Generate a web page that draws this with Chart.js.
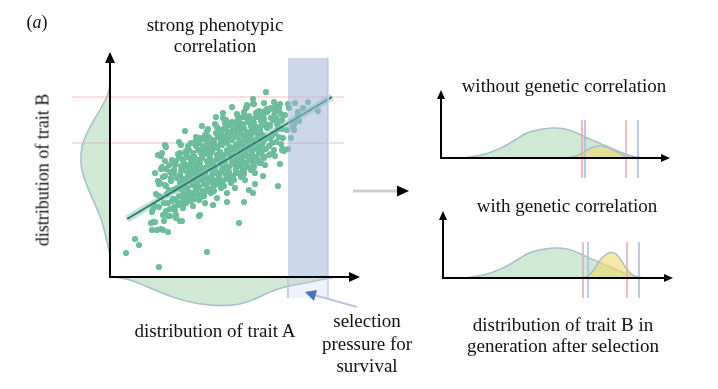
<!DOCTYPE html>
<html>
<head>
<meta charset="utf-8">
<script src="https://cdn.jsdelivr.net/npm/chart.js@4.4.0/dist/chart.umd.min.js"></script>
<style>
  body { margin: 0; background: #fff; }
  #wrap { position: relative; width: 718px; height: 389px; overflow: hidden;
          font-family: 'Liberation Serif', 'Times New Roman', serif; color: #111; }
  canvas { position: absolute; }
  .lbl { position: absolute; transform: translate(-50%, -50%); white-space: nowrap;
         font-size: 19px; line-height: 21px; text-align: center; }
</style>
</head>
<body>
<div id="wrap">
  <canvas id="mainChart" width="718" height="389" style="left:0;top:0"></canvas>
  <canvas id="withoutChart" width="240" height="94" style="left:436px;top:86px"></canvas>
  <canvas id="withChart" width="240" height="94" style="left:438px;top:206px"></canvas>

  <div class="lbl" style="left:37px;top:22px;font-size:18px">(<i>a</i>)</div>
  <div class="lbl" style="left:215px;top:35px">strong phenotypic<br>correlation</div>
  <div class="lbl" style="left:43px;top:170px;font-size:18px;transform:translate(-50%,-50%) rotate(-90deg)">distribution of trait B</div>
  <div class="lbl" style="left:215px;top:330px">distribution of trait A</div>
  <div class="lbl" style="left:367px;top:344px;line-height:22.5px">selection<br>pressure for<br>survival</div>
  <div class="lbl" style="left:564px;top:85px">without genetic correlation</div>
  <div class="lbl" style="left:567px;top:205px">with genetic correlation</div>
  <div class="lbl" style="left:563px;top:335px">distribution of trait B in<br>generation after selection</div>
</div>
<script>
  // scatter of trait A vs trait B (axis units, origin at the arrow corner)
  const traitA = [
    1.6, 2.5, 2.9, 4.9, 9.7, 12.9, 15.6, 4.2, 4.7, 4.3,
    5.1, 5.3, 5.8, 4.3, 4.9, 5.1, 5.1, 5.6, 6.9, 7.5,
    13.6, 14.3, 16.8, 17.0, 17.3, 17.8, 18.1, 18.3, 17.8, 18.5,
    19.3, 19.8, 20.8, 18.9, 18.8, 18.3, 13.9, 14.3, 15.3, 14.5,
    13.4, 11.7, 10.3, 8.9, 7.0, 6.6, 5.8, 4.9,
    6.0, 6.5, 7.2, 6.8, 7.8, 9.0, 5.0, 4.8, 5.2, 6.0,
    6.3, 5.5, 7.1, 4.5, 5.5, 5.2,
    6.2, 7.0, 8.5, 9.0, 9.5, 9.8, 10.7, 11.3, 11.5, 12.2,
    12.8, 13.7, 13.0, 12.2, 13.3,
    14.8, 15.2, 15.7, 16.6, 16.5, 16.3, 17.2, 17.0, 18.8, 18.4,
    18.4, 17.2,
    4.2, 4.6, 4.4, 4.8, 4.1, 4.9, 4.5,
    5.1, 5.3, 5.6, 5.2, 5.8, 5.5, 5.9, 5.4,
    6.1, 6.3, 6.5, 6.2, 6.7, 6.8, 6.4, 6.9, 6.6,
    7.0, 7.2, 7.4, 7.1, 7.6, 7.3, 7.7, 7.8, 7.5, 7.9,
    8.0, 8.2, 8.4, 8.1, 8.5, 8.3, 8.7, 8.6, 8.8, 8.9, 8.4,
    9.0, 9.2, 9.1, 9.4, 9.3, 9.6, 9.5, 9.7, 9.8, 9.9, 9.2,
    10.0, 10.2, 10.1, 10.4, 10.3, 10.6, 10.5, 10.7, 10.8, 10.9, 10.4, 10.6,
    11.0, 11.2, 11.1, 11.3, 11.5, 11.4, 11.7, 11.6, 11.8, 11.9, 11.3, 11.7,
    12.0, 12.2, 12.1, 12.4, 12.3, 12.6, 12.5, 12.7, 12.8, 12.9, 12.2, 12.6,
    13.0, 13.2, 13.1, 13.4, 13.3, 13.6, 13.5, 13.7, 13.8, 13.9, 13.4,
    14.0, 14.2, 14.1, 14.4, 14.3, 14.6, 14.5, 14.7, 14.8, 14.9, 14.3,
    15.0, 15.2, 15.1, 15.4, 15.3, 15.6, 15.5, 15.7, 15.8, 15.9,
    16.0, 16.2, 16.1, 16.4, 16.3, 16.6, 16.5, 16.8, 16.9,
    17.1, 17.3, 17.0, 17.5, 17.4, 17.7, 17.9,
    7.5, 8.1, 8.7, 9.3, 9.8, 10.3, 10.8, 11.3, 11.8, 12.4, 12.9, 13.5, 14.1, 14.6,
    7.9, 8.6, 9.4, 10.1, 10.8, 11.5, 12.2, 12.9, 13.6, 14.4, 15.1,
    7.2, 7.9, 8.6, 9.2, 9.9, 10.5, 11.2, 11.9, 12.5, 13.2, 13.9, 14.6, 15.3,
    8.9, 9.7, 10.4, 11.1, 11.9, 12.6, 13.3, 14.2, 15.0, 16.0,
    // dense body of the cloud
    5.6, 5.4, 5.7, 5.5, 5.3, 5.6,
    6.0, 6.2, 5.9, 6.1, 6.2, 5.9,
    6.4, 6.6, 6.5, 6.7, 6.4, 6.6,
    7.1, 6.9, 7.2, 7.0, 7.1, 6.9,
    7.6, 7.4, 7.5, 7.7, 7.4, 7.6,
    8.1, 7.9, 8.2, 8.0, 8.1, 7.9,
    8.4, 8.6, 8.5, 8.7, 8.4, 8.6,
    9.1, 8.9, 9.2, 9.0, 9.1, 8.9,
    9.4, 9.6, 9.5, 9.7, 9.4, 9.6,
    10.1, 9.9, 10.2, 10.0, 10.1, 9.9,
    10.4, 10.6, 10.5, 10.7, 10.4, 10.6,
    11.1, 10.9, 11.2, 11.0, 11.1, 10.9,
    11.4, 11.6, 11.5, 11.7, 11.4, 11.6,
    12.1, 11.9, 12.2, 12.0, 12.1, 11.9,
    12.4, 12.6, 12.5, 12.7, 12.4, 12.6,
    13.1, 12.9, 13.2, 13.0, 13.1, 12.9,
    13.4, 13.6, 13.5, 13.7, 13.4, 13.6,
    14.1, 13.9, 14.2, 14.0, 14.1, 13.9,
    14.4, 14.6, 14.5, 14.7, 14.4, 14.6,
    15.1, 14.9, 15.2, 15.0, 15.1, 14.9,
    15.4, 15.6, 15.5, 15.7, 15.4, 15.6,
    16.1, 15.9, 16.2, 16.0, 16.1, 15.9,
    16.4, 16.6, 16.5, 16.7, 16.4, 16.6,
    17.1, 16.9, 17.2, 17.0, 17.1, 16.9,
    7.3, 7.2, 7.3, 7.2, 7.3,
    7.8, 7.7, 7.8, 7.7, 7.8,
    8.3, 8.2, 8.3, 8.2, 8.3,
    8.8, 8.7, 8.8, 8.7, 8.8,
    9.3, 9.2, 9.3, 9.2, 9.3,
    9.8, 9.7, 9.8, 9.7, 9.8,
    10.3, 10.2, 10.3, 10.2, 10.3,
    10.8, 10.7, 10.8, 10.7, 10.8,
    11.3, 11.2, 11.3, 11.2, 11.3,
    11.8, 11.7, 11.8, 11.7, 11.8,
    12.3, 12.2, 12.3, 12.2, 12.3,
    12.8, 12.7, 12.8, 12.7, 12.8,
    13.3, 13.2, 13.3, 13.2, 13.3,
    13.8, 13.7, 13.8, 13.7, 13.8,
    14.3, 14.2, 14.3, 14.2, 14.3,
    14.8, 14.7, 14.8, 14.7, 14.8,
    15.3, 15.2, 15.3, 15.2, 15.3
  ];
  const traitB = [
    2.4, 3.8, 3.2, 1.0, 2.5, 5.4, 18.5, 4.7, 4.7, 5.5,
    4.8, 4.7, 4.5, 6.8, 9.3, 10.8, 12.1, 13.0, 13.5, 14.6,
    16.9, 17.3, 9.1, 11.3, 12.8, 12.8, 13.9, 15.0, 17.3, 17.4,
    16.9, 17.5, 16.6, 15.6, 16.5, 15.5, 8.7, 8.4, 10.1, 9.3,
    7.5, 7.5, 7.2, 6.1, 5.6, 6.2, 6.1, 8.1,
    6.1, 6.7, 5.6, 7.4, 7.7, 6.2, 9.4, 12.2, 11.0, 10.5,
    8.7, 13.2, 13.2, 5.5, 10.1, 12.4,
    11.7, 12.4, 13.5, 13.9, 14.2, 14.8, 15.0, 15.9, 15.4, 15.5,
    16.0, 17.0, 15.4, 14.5, 16.0,
    16.5, 16.5, 16.5, 17.1, 16.5, 15.7, 15.7, 14.9, 16.2, 15.2,
    14.7, 12.7,
    6.5, 8.3, 7.2, 9.6, 5.4, 7.0, 10.4,
    8.0, 6.2, 9.1, 10.9, 7.4, 11.6, 8.7, 5.6,
    9.9, 7.8, 11.2, 6.8, 8.9, 12.3, 10.4, 7.2, 5.9,
    9.4, 11.8, 8.1, 10.6, 12.6, 6.9, 9.9, 13.1, 7.6, 11.0,
    10.2, 8.4, 12.0, 13.4, 9.3, 7.1, 11.1, 14.0, 8.9, 12.7, 10.8,
    9.7, 11.9, 13.8, 8.2, 10.5, 12.8, 7.4, 14.6, 9.9, 11.4, 15.1,
    10.9, 8.7, 12.4, 13.6, 9.6, 11.7, 15.3, 7.9, 14.2, 10.3, 12.9, 16.0,
    11.5, 9.2, 13.3, 14.8, 10.4, 12.2, 8.4, 15.7, 13.9, 11.0, 16.4, 9.9,
    12.3, 10.1, 14.1, 15.4, 11.3, 13.2, 8.9, 16.3, 12.0, 14.6, 17.0, 10.6,
    13.0, 11.2, 15.0, 16.5, 12.1, 14.0, 9.7, 17.2, 12.8, 15.6, 10.6,
    13.7, 11.9, 15.8, 17.3, 12.8, 14.6, 10.4, 16.4, 13.2, 11.4, 17.8,
    14.5, 12.6, 16.3, 17.4, 13.5, 15.3, 11.2, 16.8, 13.9, 12.2,
    15.2, 13.4, 16.9, 17.5, 14.3, 15.9, 12.1, 14.8, 16.6,
    15.6, 13.9, 17.3, 16.2, 12.6, 14.7, 16.9,
    9.5, 9.8, 10.3, 10.9, 11.0, 11.3, 11.9, 12.0, 12.6, 12.9, 13.4, 13.7, 14.2, 14.5,
    8.2, 8.5, 9.3, 9.9, 10.4, 11.0, 11.6, 12.2, 12.6, 13.2, 13.9,
    10.7, 11.2, 11.8, 12.4, 12.9, 13.2, 13.8, 14.3, 14.8, 15.2, 15.7, 16.0, 16.5,
    7.7, 8.6, 9.1, 9.7, 10.2, 11.0, 11.4, 12.3, 12.9, 13.9,
    // dense body of the cloud
    6.6, 7.4, 8.3, 9.2, 10.0, 10.8,
    6.8, 7.6, 8.6, 9.6, 10.4, 11.2,
    7.0, 7.8, 8.8, 9.9, 10.7, 11.6,
    7.2, 8.1, 9.1, 10.2, 11.1, 12.0,
    7.4, 8.3, 9.4, 10.5, 11.4, 12.3,
    7.6, 8.5, 9.6, 10.8, 11.7, 12.7,
    7.8, 8.8, 9.9, 11.1, 12.1, 13.1,
    8.0, 9.0, 10.2, 11.4, 12.4, 13.4,
    8.1, 9.2, 10.4, 11.6, 12.7, 13.7,
    8.4, 9.5, 10.7, 11.9, 13.0, 14.0,
    8.6, 9.7, 10.9, 12.2, 13.3, 14.4,
    8.9, 10.0, 11.2, 12.5, 13.6, 14.7,
    9.1, 10.2, 11.5, 12.7, 13.8, 14.9,
    9.4, 10.5, 11.8, 13.0, 14.1, 15.2,
    9.7, 10.8, 12.0, 13.3, 14.4, 15.5,
    10.0, 11.1, 12.3, 13.6, 14.7, 15.8,
    10.3, 11.4, 12.6, 13.8, 14.9, 16.0,
    10.7, 11.7, 12.9, 14.1, 15.1, 16.1,
    11.0, 12.0, 13.2, 14.4, 15.4, 16.4,
    11.4, 12.4, 13.5, 14.7, 15.6, 16.6,
    11.9, 12.8, 13.8, 14.9, 15.8, 16.7,
    12.3, 13.1, 14.1, 15.1, 15.9, 16.7,
    12.7, 13.5, 14.4, 15.3, 16.1, 16.9,
    13.3, 14.0, 14.8, 15.6, 16.3, 17.0,
    7.7, 8.7, 9.8, 10.8, 11.7,
    7.9, 8.9, 10.1, 11.1, 12.0,
    8.2, 9.2, 10.4, 11.4, 12.4,
    8.3, 9.4, 10.6, 11.7, 12.7,
    8.6, 9.7, 10.9, 12.0, 13.1,
    8.8, 9.9, 11.2, 12.3, 13.4,
    9.0, 10.2, 11.5, 12.6, 13.7,
    9.3, 10.4, 11.7, 12.9, 14.0,
    9.6, 10.7, 12.0, 13.2, 14.2,
    9.8, 11.0, 12.3, 13.4, 14.5,
    10.1, 11.3, 12.6, 13.7, 14.8,
    10.4, 11.5, 12.8, 14.0, 15.1,
    10.7, 11.8, 13.1, 14.2, 15.3,
    11.0, 12.1, 13.4, 14.5, 15.5,
    11.4, 12.4, 13.7, 14.7, 15.7,
    11.7, 12.8, 14.0, 15.0, 16.0,
    12.1, 13.1, 14.2, 15.2, 16.1
  ];

  // regression line ends
  const fitA = [1.7, 22.2];
  const fitB = [5.8, 18.0];

  // marginal distribution of trait B (drawn left of the y axis)
  const marginBLevels  = [19.5, 18.7, 18.0, 16.7, 15.2, 13.4, 12.2, 10.9, 9.4, 8.0, 6.7, 5.5, 4.2, 3.0, 2.0];
  const marginBDensity = [0, -0.1, -0.33, -1.0, -1.9, -2.7, -2.9, -2.85, -2.4, -1.83, -1.25, -0.8, -0.45, -0.17, 0];

  // marginal distribution of trait A (drawn below the x axis)
  const marginALevels  = [0.5, 2.0, 4.0, 6.0, 8.0, 10.0, 11.5, 13.0, 14.5, 16.0, 17.5, 19.0, 20.5, 22.0, 22.5];
  const marginADensity = [0, -0.3, -1.1, -1.9, -2.5, -2.8, -2.85, -2.7, -2.2, -1.5, -1.0, -0.7, -0.4, -0.1, 0];

  // selection window on trait A, and trait B thresholds
  const selectionA = [17.8, 21.8];
  const selectionTop = 21.9;
  const selectionFoot = -2.1;
  const thresholdsB = [18.0, 13.4];
  const thresholdSpan = [-3.8, 23.4];

  // trait B in the next generation
  const parentX = [2.2, 4.4, 6.2, 7.4, 8.6, 9.9, 11.2, 12.4, 13.6, 14.6, 15.6, 16.7, 17.9, 19.1, 20.1];
  const parentD = [0, 0.4, 1.1, 1.8, 2.5, 2.85, 3.0, 2.9, 2.5, 2.0, 1.6, 1.1, 0.6, 0.2, 0];
  const noCorrX = [12.6, 13.8, 14.6, 15.3, 15.9, 16.6, 17.2, 18.0, 18.6, 19.6];
  const noCorrD = [0, 0.3, 0.8, 1.1, 1.2, 1.1, 0.8, 0.4, 0.1, 0];
  const corrX = [14.0, 14.6, 15.2, 15.7, 16.3, 16.8, 17.3, 17.8, 18.3, 18.9, 19.5, 20.0];
  const corrD = [0, 0.3, 1.0, 1.8, 2.35, 2.55, 2.4, 1.8, 1.0, 0.35, 0.05, 0];
  const noCorrPink = [14.1, 18.5], noCorrBlue = [14.4, 19.7];
  const corrPink = [14.0, 18.4], corrBlue = [14.5, 19.6];

  const xy = (xs, ys) => xs.map((x, i) => ({ x, y: ys[i] }));
  const GREEN_FILL = '#cfe9d5', CURVE_EDGE = '#a8bccf';

  function arrowAxes(xEnd, yEnd, head, half) {
    return {
      id: 'arrowAxes',
      afterDatasetsDraw(chart) {
        const ctx = chart.ctx, xs = chart.scales.x, ys = chart.scales.y;
        const x0 = xs.getPixelForValue(0), y0 = ys.getPixelForValue(0);
        const xe = xs.getPixelForValue(xEnd), ye = ys.getPixelForValue(yEnd);
        ctx.save();
        ctx.strokeStyle = '#000'; ctx.fillStyle = '#000'; ctx.lineWidth = 2;
        ctx.beginPath();
        ctx.moveTo(x0, y0 + 1); ctx.lineTo(x0, ye + head - 1);
        ctx.moveTo(x0 - 1, y0); ctx.lineTo(xe - head + 1, y0);
        ctx.stroke();
        ctx.beginPath();
        ctx.moveTo(x0, ye); ctx.lineTo(x0 - half, ye + head); ctx.lineTo(x0 + half, ye + head); ctx.closePath();
        ctx.moveTo(xe, y0); ctx.lineTo(xe - head, y0 - half); ctx.lineTo(xe - head, y0 + half); ctx.closePath();
        ctx.fill();
        ctx.restore();
      }
    };
  }

  // the two connecting arrows of the figure
  const pointers = {
    id: 'pointers',
    afterDraw(chart) {
      const ctx = chart.ctx;
      ctx.save();
      ctx.strokeStyle = '#cfcfcf'; ctx.lineWidth = 3;
      ctx.beginPath(); ctx.moveTo(353, 191); ctx.lineTo(399, 191); ctx.stroke();
      ctx.fillStyle = '#000';
      ctx.beginPath(); ctx.moveTo(409, 191); ctx.lineTo(397, 185.5); ctx.lineTo(397, 196.5); ctx.closePath(); ctx.fill();
      ctx.strokeStyle = '#b9c6e2'; ctx.lineWidth = 2;
      ctx.beginPath(); ctx.moveTo(357, 307); ctx.lineTo(314, 295); ctx.stroke();
      ctx.fillStyle = '#4a72bf';
      ctx.beginPath(); ctx.moveTo(305, 292); ctx.lineTo(317, 290); ctx.lineTo(314, 301); ctx.closePath(); ctx.fill();
      ctx.restore();
    }
  };

  const lineBase = { type: 'line', pointRadius: 0, borderWidth: 1, fill: false };

  new Chart(document.getElementById('mainChart'), {
    type: 'scatter',
    data: {
      datasets: [
        { ...lineBase, data: selectionA.map(x => ({ x, y: selectionTop })), borderWidth: 0,
          fill: { value: 0 }, backgroundColor: 'rgba(160,178,217,0.52)', order: 1 },
        { ...lineBase, data: selectionA.map(x => ({ x, y: 0 })), borderWidth: 0,
          fill: { value: selectionFoot }, backgroundColor: 'rgba(195,206,230,0.25)', order: 1 },
        { ...lineBase, data: [{ x: selectionA[0], y: 0 }, { x: selectionA[0], y: selectionFoot }], borderColor: 'rgba(185,198,226,0.9)', order: 1 },
        { ...lineBase, data: [{ x: selectionA[1], y: selectionTop }, { x: selectionA[1], y: selectionFoot }], borderColor: 'rgba(205,215,235,0.9)', order: 1 },
        { ...lineBase, data: xy(fitA, fitB), borderColor: '#2f7a68', borderWidth: 1.8, order: 2 },
        { ...lineBase, data: xy(fitA, fitB), borderColor: 'rgba(125,195,182,0.5)', borderWidth: 7, order: 3 },
        { data: xy(traitA, traitB), pointRadius: 3.1, pointBackgroundColor: '#6cbd9c', pointBorderWidth: 0, order: 4 },
        ...thresholdsB.map(b => ({ ...lineBase, data: thresholdSpan.map(x => ({ x, y: b })),
          borderColor: 'rgba(236,168,176,0.75)', order: 5 })),
        { ...lineBase, indexAxis: 'y', data: xy(marginBDensity, marginBLevels), tension: 0.35,
          fill: 'origin', backgroundColor: GREEN_FILL, borderColor: CURVE_EDGE, borderWidth: 1.5, order: 6 },
        { ...lineBase, data: xy(marginALevels, marginADensity), tension: 0.4,
          fill: 'origin', backgroundColor: GREEN_FILL, borderColor: CURVE_EDGE, borderWidth: 1.5, order: 6 }
      ]
    },
    options: {
      responsive: false,
      animation: false,
      events: [],
      layout: { padding: { left: 70, right: 353, top: 40, bottom: 77 } },
      scales: {
        x: { type: 'linear', min: -4, max: 25.5, display: false },
        y: { type: 'linear', min: -3.5, max: 23.7, display: false }
      },
      plugins: { legend: { display: false }, tooltip: { enabled: false } }
    },
    plugins: [arrowAxes(25.0, 22.5, 11, 5), pointers]
  });

  function nextGeneration(id, offX, offD, pink, blue, cutTop, xEnd, yEnd) {
    const cut = (xs, color) => xs.map(x => ({ ...lineBase, data: [{ x, y: cutTop }, { x, y: -2.0 }],
      borderColor: color, order: 1 }));
    new Chart(document.getElementById(id), {
      type: 'scatter',
      data: {
        datasets: [
          ...cut(pink, 'rgba(236,168,176,0.8)'),
          ...cut(blue, 'rgba(170,190,226,0.8)'),
          { ...lineBase, data: xy(offX, offD), tension: 0.4, fill: 'origin',
            backgroundColor: 'rgba(242,218,115,0.62)', borderColor: CURVE_EDGE, borderWidth: 1.5, order: 2 },
          { ...lineBase, data: xy(parentX, parentD), tension: 0.4, fill: 'origin',
            backgroundColor: GREEN_FILL, borderColor: CURVE_EDGE, borderWidth: 1.5, order: 3 }
        ]
      },
      options: {
        responsive: false,
        animation: false,
        events: [],
        layout: { padding: 0 },
        scales: {
          x: { type: 'linear', min: -0.5, max: 23.5, display: false },
          y: { type: 'linear', min: -2.2, max: 7.2, display: false }
        },
        plugins: { legend: { display: false }, tooltip: { enabled: false } }
      },
      plugins: [arrowAxes(xEnd, yEnd, 9, 4)]
    });
  }

  nextGeneration('withoutChart', noCorrX, noCorrD, noCorrPink, noCorrBlue, 3.8, 22.9, 6.8);
  nextGeneration('withChart', corrX, corrD, corrPink, corrBlue, 3.6, 23.0, 6.7);
</script>
</body>
</html>
